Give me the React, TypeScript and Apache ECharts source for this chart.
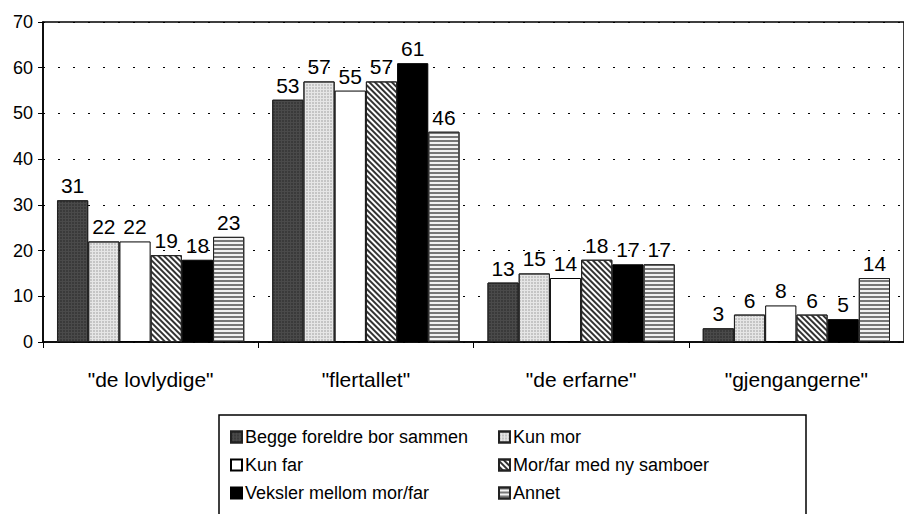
import React, { useEffect, useRef } from "react";
import * as echarts from "echarts";

const categories = ['"de lovlydige"', '"flertallet"', '"de erfarne"', '"gjengangerne"'];
const seriesNames = [
  "Begge foreldre bor sammen",
  "Kun mor",
  "Kun far",
  "Mor/far med ny samboer",
  "Veksler mellom mor/far",
  "Annet",
];
const begge = [31, 53, 13, 3];
const kunMor = [22, 57, 15, 6];
const kunFar = [22, 55, 14, 8];
const nySamboer = [19, 57, 18, 6];
const veksler = [18, 61, 17, 5];
const annet = [23, 46, 17, 14];
const yTicks = [0, 10, 20, 30, 40, 50, 60, 70];

const FONT = "'Liberation Sans', Arial, Helvetica, sans-serif";

export default function App() {
  const ref = useRef<HTMLDivElement>(null);
  useEffect(() => {
    if (!ref.current) return;
    const chart = echarts.init(ref.current, null, { renderer: "svg" });
    const values = [begge, kunMor, kunFar, nySamboer, veksler, annet];
    const styles: any[] = [
      {
        color: "#4a4a4a",
        borderColor: "#222",
        borderWidth: 1,
        decal: { symbol: "rect", symbolSize: 0.6, color: "#111", dashArrayX: [2, 1], dashArrayY: [2, 1], rotation: 0 },
      },
      {
        color: "#e6e6e6",
        borderColor: "#222",
        borderWidth: 1,
        decal: { symbol: "rect", symbolSize: 0.6, color: "#777", dashArrayX: [2, 1], dashArrayY: [2, 1], rotation: 0 },
      },
      { color: "#ffffff", borderColor: "#000", borderWidth: 1 },
      {
        color: "#ffffff",
        borderColor: "#222",
        borderWidth: 1,
        decal: { symbol: "rect", color: "#333", dashArrayX: [1, 0], dashArrayY: [2, 2], rotation: Math.PI / 4 },
      },
      { color: "#000000", borderColor: "#000", borderWidth: 1 },
      {
        color: "#f2f2f2",
        borderColor: "#222",
        borderWidth: 1,
        decal: { symbol: "rect", color: "#777", dashArrayX: [1, 0], dashArrayY: [2, 2], rotation: 0 },
      },
    ];
    const series = seriesNames.map((name, i) => ({
      name,
      type: "bar",
      data: values[i],
      barGap: "0%",
      barCategoryGap: "13%",
      itemStyle: styles[i],
      label: {
        show: true,
        position: "top",
        distance: 4,
        color: "#000",
        fontSize: 21,
        fontFamily: FONT,
      },
    }));
    const legendCommon = {
      orient: "vertical",
      icon: "rect",
      itemWidth: 11,
      itemHeight: 11,
      itemGap: 10,
      textStyle: { fontSize: 18, color: "#000", fontFamily: FONT, padding: [0, 0, 0, -2] },
      selectedMode: false,
    };
    chart.setOption({
      animation: false,
      backgroundColor: "#fff",
      grid: {
        left: 43,
        top: 22,
        width: 872,
        height: 320,
        show: true,
        borderColor: "#000",
        borderWidth: 1.5,
        backgroundColor: "transparent",
      },
      legend: [
        { ...legendCommon, left: 225, top: 423, data: [seriesNames[0], seriesNames[2], seriesNames[4]] },
        { ...legendCommon, left: 493, top: 423, data: [seriesNames[1], seriesNames[3], seriesNames[5]] },
      ],
      xAxis: {
        type: "category",
        data: categories,
        axisLine: { lineStyle: { color: "#000", width: 1.5 } },
        axisTick: { show: true, inside: false, length: 6, lineStyle: { color: "#000" } },
        axisLabel: { color: "#000", fontSize: 21, fontFamily: FONT, margin: 27 },
      },
      yAxis: {
        type: "value",
        min: yTicks[0],
        max: yTicks[yTicks.length - 1],
        interval: 10,
        axisLine: { show: true, lineStyle: { color: "#000", width: 1.5 } },
        axisTick: { show: true, length: 5, lineStyle: { color: "#000" } },
        axisLabel: { color: "#000", fontSize: 18, fontFamily: FONT, margin: 10 },
        splitLine: { show: true, lineStyle: { color: "#000", width: 1, type: [2, 13] } },
      },
      graphic: [
        {
          type: "rect",
          shape: { x: 219, y: 415, width: 587, height: 130 },
          style: { fill: "none", stroke: "#000", lineWidth: 1.5 },
          silent: true,
        },
      ],
      series,
    });
    return () => chart.dispose();
  }, []);
  return <div ref={ref} style={{ width: 904, height: 514, position: "absolute", left: 0, top: 0 }} />;
}
